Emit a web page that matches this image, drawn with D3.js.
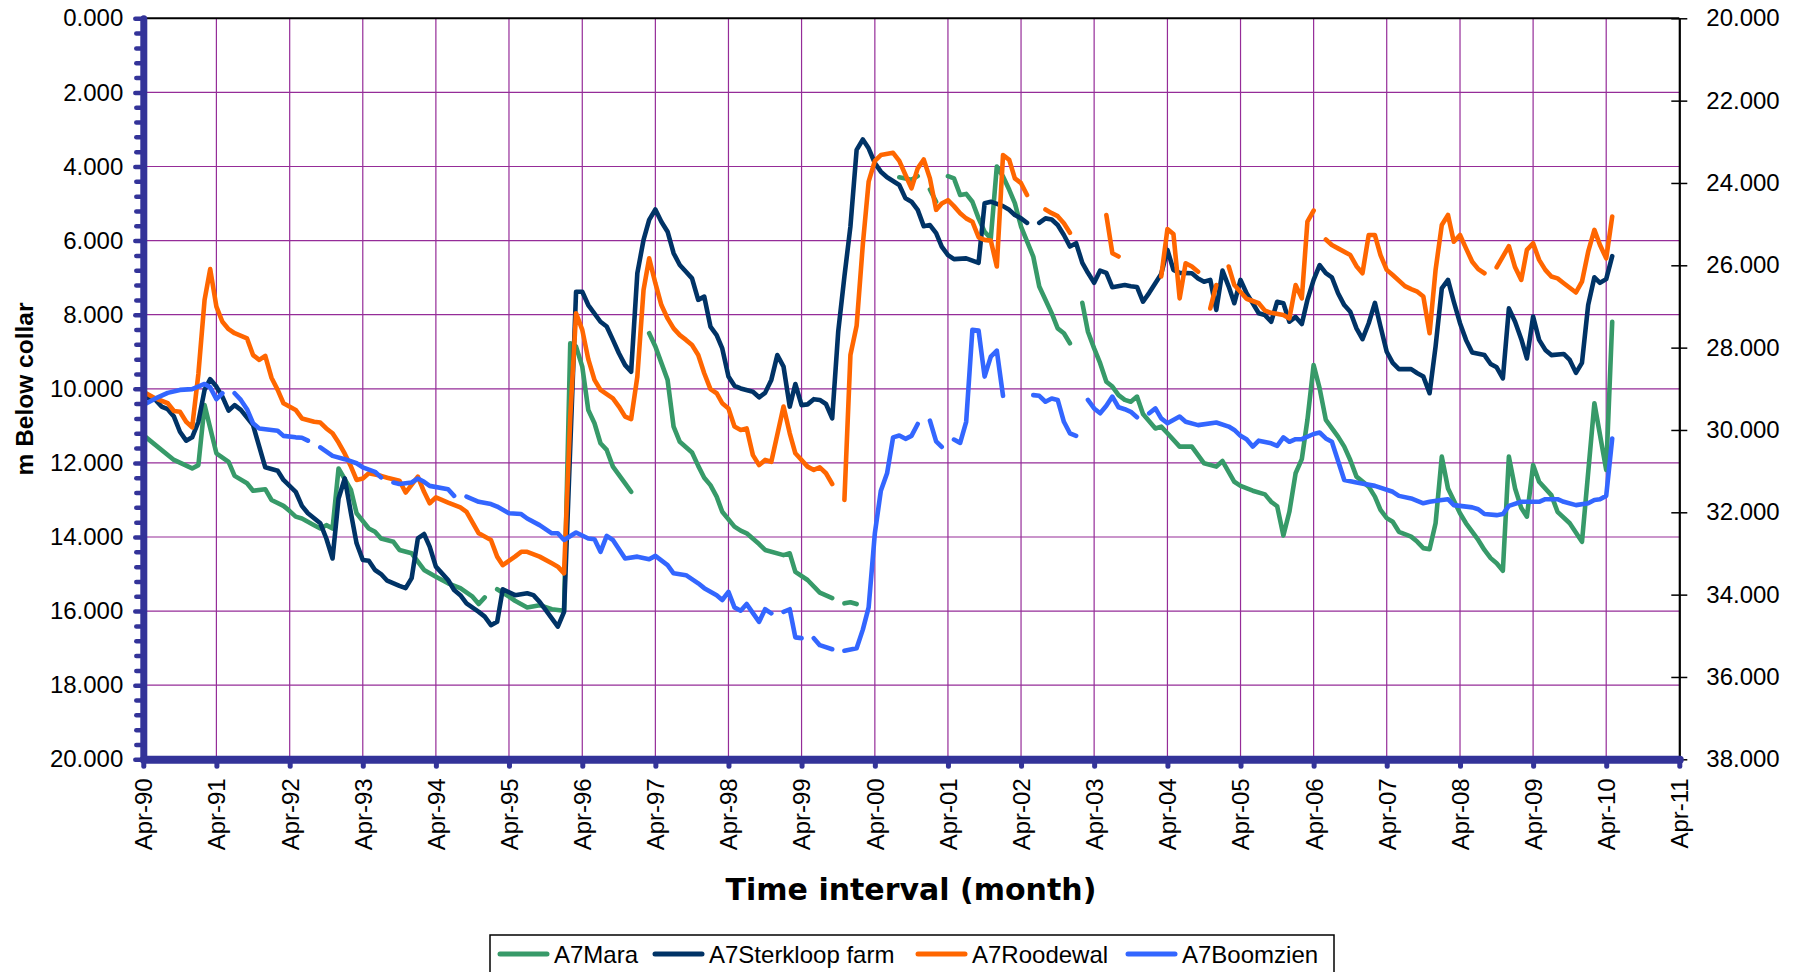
<!DOCTYPE html>
<html>
<head>
<meta charset="utf-8">
<script src="https://cdn.jsdelivr.net/npm/d3@7/dist/d3.min.js"></script>
<style>
  body { margin: 0; background: #fff; }
  svg { display: block; }
  text { font-family: "Liberation Sans", Arial, Helvetica, sans-serif; fill: #000; }
  text.x-title { font-family: "DejaVu Sans", Verdana, sans-serif; }
</style>
</head>
<body>
<svg id="chart" width="1795" height="972"></svg>
<script>
// Monthly water levels (m below collar), month offset counted from April 1990.
// A [month, null] entry marks a break in the record.
const firstMonth = new Date(1990, 3, 1);

const yearLabels = ["Apr-90","Apr-91","Apr-92","Apr-93","Apr-94","Apr-95","Apr-96","Apr-97",
  "Apr-98","Apr-99","Apr-00","Apr-01","Apr-02","Apr-03","Apr-04","Apr-05","Apr-06","Apr-07",
  "Apr-08","Apr-09","Apr-10","Apr-11"];
const leftTicks = [0, 2, 4, 6, 8, 10, 12, 14, 16, 18, 20];
const rightTicks = [20, 22, 24, 26, 28, 30, 32, 34, 36, 38];

const seriesNames = ["A7Mara", "A7Sterkloop farm", "A7Roodewal", "A7Boomzien"];

const mara = [[0,11.25],[5,11.92],[8,12.15],[9,12.06],[10,10.44],[12,11.74],[14,11.97],[15,12.35],[17,12.55],[18,12.75],[20,12.71],[21,13.0],[23,13.16],[24,13.3],[25,13.45],[26,13.5],[28,13.68],[29,13.77],[30,13.68],[31,13.77],[32,12.15],[34,12.73],[35,13.36],[37,13.77],[38,13.86],[39,14.04],[41,14.13],[42,14.35],[44,14.44],[46,14.89],[48,15.07],[50,15.25],[52,15.38],[54,15.61],[55,15.81],[56,15.63],[57,null],[58,15.41],[60,15.61],[61,15.72],[63,15.9],[65,15.84],[67,15.95],[69,15.99],[70,8.77],[71,8.86],[72,9.4],[73,10.57],[74,10.93],[75,11.47],[76,11.65],[77,12.1],[79,12.55],[80,12.78],[81,null],[83,8.5],[84,8.86],[86,9.76],[87,11.02],[88,11.43],[90,11.72],[91,12.08],[92,12.4],[93,12.6],[94,12.91],[95,13.32],[97,13.72],[98,13.83],[99,13.9],[101,14.19],[102,14.35],[105,14.49],[106,14.44],[107,14.94],[109,15.16],[111,15.5],[113,15.65],[114,null],[115,15.79],[116,15.76],[117,15.81],[118,null],[124,4.29],[126,4.36],[127,4.26],[128,null],[129,4.62],[130,4.95],[131,null],[132,4.26],[133,4.32],[134,4.77],[135,4.74],[136,4.95],[137,5.4],[138,5.76],[139,5.94],[140,4.0],[141,4.27],[142,4.63],[143,4.99],[144,5.62],[146,6.43],[147,7.24],[149,7.96],[150,8.37],[151,8.5],[152,8.77],[153,null],[154,7.68],[155,8.46],[156,8.91],[157,9.31],[158,9.81],[159,9.94],[160,10.17],[161,10.3],[162,10.35],[163,10.21],[164,10.68],[166,11.07],[167,11.02],[168,11.2],[170,11.56],[171,11.56],[172,11.56],[174,12.01],[176,12.1],[177,11.95],[179,12.51],[180,12.62],[182,12.75],[184,12.85],[185,13.05],[186,13.17],[187,13.96],[188,13.32],[189,12.28],[190,11.9],[191,10.84],[192,9.36],[193,9.99],[194,10.84],[196,11.29],[197,11.56],[198,11.92],[199,12.37],[201,12.64],[202,12.91],[203,13.27],[204,13.49],[205,13.59],[206,13.86],[208,13.99],[209,14.13],[210,14.3],[211,14.33],[212,13.63],[213,11.83],[214,12.69],[216,13.36],[217,13.63],[219,14.08],[220,14.35],[221,14.57],[222,14.71],[223,14.91],[224,11.83],[225,12.69],[226,13.22],[227,13.45],[228,12.06],[229,12.51],[231,12.87],[232,13.32],[234,13.63],[236,14.13],[238,10.39],[240,12.19],[241,8.19]];

const sterkloop = [[0,10.21],[2,10.3],[3,10.48],[4,10.55],[5,10.75],[6,11.16],[7,11.4],[8,11.31],[9,10.89],[10,10.03],[11,9.74],[12,9.94],[13,10.21],[14,10.59],[15,10.44],[16,10.57],[18,10.98],[19,11.56],[20,12.12],[22,12.21],[23,12.46],[25,12.78],[26,13.16],[27,13.36],[29,13.63],[30,14.04],[31,14.58],[32,12.96],[33,12.42],[34,13.36],[35,14.17],[36,14.62],[37,14.64],[38,14.89],[39,15.0],[40,15.18],[42,15.32],[43,15.38],[44,15.11],[45,14.04],[46,13.92],[47,14.26],[48,14.8],[50,15.16],[51,15.43],[52,15.57],[53,15.79],[55,16.02],[56,16.15],[57,16.38],[58,16.29],[59,15.41],[61,15.57],[63,15.52],[64,15.57],[65,15.75],[66,15.97],[68,16.42],[69,16.02],[71,7.38],[72,7.38],[73,7.74],[75,8.19],[76,8.32],[77,8.68],[78,9.04],[79,9.36],[80,9.54],[81,6.88],[82,5.98],[83,5.44],[84,5.16],[85,5.49],[86,5.76],[87,6.34],[88,6.66],[89,6.84],[90,7.02],[91,7.6],[92,7.51],[93,8.32],[94,8.55],[95,8.91],[96,9.67],[97,9.92],[98,9.99],[100,10.08],[101,10.23],[102,10.11],[103,9.76],[104,9.09],[105,9.4],[106,10.48],[107,9.87],[108,10.44],[109,10.42],[110,10.28],[111,10.3],[112,10.41],[113,10.8],[114,8.46],[115,6.97],[116,5.62],[117,3.55],[118,3.27],[119,3.51],[120,3.91],[121,4.14],[122,4.29],[124,4.5],[125,4.86],[126,4.95],[127,5.17],[128,5.61],[129,5.58],[130,5.8],[131,6.16],[132,6.39],[133,6.5],[135,6.48],[136,6.54],[137,6.6],[138,4.99],[139,4.95],[141,5.07],[142,5.17],[143,5.31],[144,5.4],[145,5.52],[146,null],[147,5.52],[148,5.4],[149,5.43],[150,5.58],[151,5.85],[152,6.16],[153,6.07],[154,6.6],[155,6.87],[156,7.14],[157,6.81],[158,6.87],[159,7.26],[161,7.2],[162,7.23],[163,7.25],[164,7.65],[165,7.41],[167,6.9],[168,6.25],[169,6.79],[170,6.87],[172,6.88],[173,7.02],[174,7.11],[175,7.06],[176,7.87],[177,6.81],[178,7.24],[179,7.69],[180,7.06],[181,7.42],[182,7.69],[183,7.96],[184,8.01],[185,8.19],[186,7.65],[187,7.69],[188,8.19],[189,8.06],[190,8.25],[191,7.6],[192,7.06],[193,6.66],[194,6.88],[195,6.99],[196,7.42],[197,7.74],[198,7.92],[199,8.37],[200,8.66],[201,8.23],[202,7.68],[203,8.32],[204,9.0],[205,9.3],[206,9.47],[208,9.47],[209,9.58],[210,9.67],[211,10.12],[212,8.86],[213,7.29],[214,7.06],[215,7.65],[216,8.23],[217,8.68],[218,9.02],[220,9.09],[221,9.33],[222,9.42],[223,9.72],[224,7.83],[225,8.19],[226,8.66],[227,9.18],[228,8.05],[229,8.68],[230,8.95],[231,9.09],[233,9.06],[234,9.22],[235,9.57],[236,9.3],[237,7.74],[238,6.99],[239,7.14],[240,7.04],[241,6.42]];

const roodewal = [[0,10.08],[2,10.26],[4,10.39],[5,10.6],[6,10.62],[7,10.89],[8,11.04],[9,9.6],[10,7.6],[11,6.77],[12,7.78],[13,8.19],[14,8.39],[15,8.5],[17,8.64],[18,9.09],[19,9.22],[20,9.11],[21,9.7],[22,10.03],[23,10.39],[25,10.57],[26,10.8],[28,10.89],[29,10.91],[30,11.07],[31,11.2],[32,11.45],[33,11.75],[34,12.1],[35,12.46],[36,12.42],[37,12.28],[39,12.35],[40,12.4],[42,12.48],[43,12.8],[45,12.37],[46,12.78],[47,13.09],[48,12.93],[50,13.07],[52,13.2],[53,13.32],[55,13.9],[57,14.08],[58,14.53],[59,14.76],[61,14.53],[62,14.4],[63,14.4],[65,14.53],[67,14.71],[68,14.8],[69,14.98],[70,10.75],[71,7.96],[72,8.41],[73,9.2],[74,9.76],[75,10.03],[77,10.26],[78,10.48],[79,10.75],[80,10.82],[81,9.67],[82,7.33],[83,6.48],[84,7.15],[85,7.74],[86,8.1],[87,8.37],[88,8.55],[89,8.68],[90,8.82],[91,9.09],[92,9.58],[93,10.01],[94,10.12],[95,10.39],[96,10.53],[97,11.02],[98,11.11],[99,11.07],[100,11.79],[101,12.06],[102,11.92],[103,11.97],[105,10.48],[106,11.2],[107,11.74],[109,12.1],[110,12.19],[111,12.12],[112,12.28],[113,12.57],[114,null],[115,13.0],[116,9.09],[117,8.3],[118,6.1],[119,4.41],[120,3.85],[121,3.69],[123,3.63],[124,3.85],[125,4.23],[126,4.59],[127,4.05],[128,3.81],[129,4.32],[130,5.17],[131,5.0],[132,4.91],[133,5.07],[134,5.26],[135,5.4],[136,5.49],[137,5.91],[138,5.98],[139,6.0],[140,6.7],[141,3.69],[142,3.82],[143,4.32],[144,4.45],[145,4.77],[146,null],[148,5.16],[149,5.26],[150,5.34],[151,5.53],[152,5.79],[153,null],[158,5.31],[159,6.34],[160,6.43],[161,null],[167,6.97],[168,5.69],[169,5.82],[170,7.56],[171,6.61],[172,6.7],[173,6.84],[174,null],[175,7.83],[176,7.2],[177,null],[178,6.7],[179,7.2],[181,7.57],[183,7.69],[184,7.89],[185,7.95],[187,8.01],[188,8.1],[189,7.2],[190,7.56],[191,5.49],[192,5.19],[193,null],[194,5.97],[195,6.12],[196,6.21],[198,6.39],[199,6.69],[200,6.88],[201,5.85],[202,5.85],[203,6.39],[204,6.79],[205,6.93],[207,7.23],[208,7.31],[209,7.38],[210,7.51],[211,8.5],[212,6.79],[213,5.58],[214,5.31],[215,6.03],[216,5.85],[217,6.21],[218,6.57],[219,6.77],[220,6.88],[221,null],[222,6.72],[224,6.15],[225,6.72],[226,7.06],[227,6.25],[228,6.07],[229,6.52],[230,6.79],[231,6.97],[232,7.02],[233,7.15],[235,7.4],[236,7.11],[237,6.3],[238,5.71],[239,6.12],[240,6.48],[241,5.35]];

const boomzien = [[0,10.44],[2,10.26],[4,10.11],[6,10.03],[8,10.01],[10,9.87],[11,9.96],[12,10.28],[13,10.12],[14,null],[15,10.12],[16,10.3],[17,10.55],[18,10.93],[19,11.07],[22,11.13],[23,11.27],[25,11.31],[26,11.32],[27,11.4],[28,null],[29,11.58],[31,11.81],[33,11.9],[35,12.01],[36,12.12],[38,12.24],[39,12.39],[40,null],[41,12.53],[42,12.57],[44,12.53],[45,12.42],[46,12.51],[47,12.62],[50,12.71],[51,12.89],[52,null],[53,12.91],[55,13.05],[57,13.11],[58,13.18],[60,13.36],[62,13.38],[63,13.5],[65,13.68],[67,13.9],[68,13.9],[69,14.08],[71,13.88],[73,14.04],[74,14.06],[75,14.4],[76,13.97],[77,14.08],[79,14.58],[81,14.53],[83,14.6],[84,14.51],[86,14.76],[87,14.98],[89,15.03],[91,15.25],[92,15.38],[94,15.57],[95,15.7],[96,15.48],[97,15.9],[98,15.99],[99,15.81],[101,16.29],[102,15.95],[103,16.06],[104,null],[105,16.02],[106,15.95],[107,16.71],[108,16.73],[109,null],[110,16.73],[111,16.92],[113,17.03],[114,null],[115,17.07],[117,17.0],[118,16.5],[119,15.9],[120,13.9],[121,12.75],[122,12.28],[123,11.31],[124,11.26],[125,11.35],[126,11.27],[127,10.95],[128,null],[129,10.86],[130,11.42],[131,11.57],[132,null],[133,11.37],[134,11.46],[135,10.89],[136,8.41],[137,8.43],[138,9.67],[139,9.13],[140,8.97],[141,10.19],[142,null],[146,10.17],[147,10.19],[148,10.35],[149,10.26],[150,10.3],[151,10.89],[152,11.2],[153,11.27],[154,null],[155,10.3],[156,10.53],[157,10.66],[158,10.46],[159,10.21],[160,10.5],[161,10.55],[162,10.62],[163,10.77],[164,null],[165,10.66],[166,10.53],[167,10.8],[168,10.93],[170,10.75],[171,10.89],[173,10.98],[176,10.91],[178,11.02],[179,11.11],[180,11.27],[181,11.36],[182,11.56],[183,11.4],[185,11.47],[186,11.54],[187,11.31],[188,11.43],[189,11.36],[190,11.36],[192,11.22],[193,11.18],[194,11.34],[195,11.43],[197,12.46],[199,12.53],[202,12.62],[205,12.78],[206,12.89],[208,12.96],[210,13.09],[211,13.05],[213,13.0],[214,12.98],[215,13.14],[218,13.2],[219,13.25],[220,13.38],[222,13.41],[223,13.38],[224,13.16],[226,13.05],[229,13.05],[230,12.98],[232,12.98],[233,13.05],[235,13.14],[237,13.09],[238,13.0],[239,12.98],[240,12.89],[241,11.34]];

const seriesData = [mara, sterkloop, roodewal, boomzien];
const seriesColors = ["#379A69", "#003366", "#FF6600", "#3366FF"];

// ---- layout ----
const plot = { left: 143.3, right: 1679.3, top: 18.3, bottom: 759.3 };
const axisBlue = "#333399";
const gridPurple = "#952C98";

const svg = d3.select("#chart");

const monthDate = m => d3.timeMonth.offset(firstMonth, m);
const yearDates = yearLabels.map((_, i) => d3.timeYear.offset(firstMonth, i));

const x = d3.scaleTime()
  .domain([firstMonth, d3.timeYear.offset(firstMonth, 21)])
  .range([plot.left, plot.right]);
const y = d3.scaleLinear().domain([0, 20]).range([plot.top, plot.bottom]);
const yRight = d3.scaleLinear().domain([20, 38]).range([plot.top, plot.bottom]);

// ---- gridlines ----
const grid = svg.append("g").attr("stroke", gridPurple).attr("stroke-width", 1.2);
grid.selectAll("line.v").data(yearDates.slice(1, -1)).join("line")
  .attr("x1", d => x(d)).attr("x2", d => x(d))
  .attr("y1", plot.top).attr("y2", plot.bottom);
grid.selectAll("line.h").data(leftTicks.slice(1, -1)).join("line")
  .attr("x1", plot.left).attr("x2", plot.right)
  .attr("y1", d => y(d)).attr("y2", d => y(d));

// ---- series ----
const line = d3.line()
  .defined(d => d[1] !== null)
  .x(d => x(monthDate(d[0])))
  .y(d => y(d[1]));

svg.append("g").selectAll("path").data(seriesData).join("path")
  .attr("d", line)
  .attr("fill", "none")
  .attr("stroke", (d, i) => seriesColors[i])
  .attr("stroke-width", 4.6)
  .attr("stroke-linejoin", "round")
  .attr("stroke-linecap", "round");

// ---- frame: top edge and secondary axis ----
svg.append("line")
  .attr("x1", plot.left).attr("x2", plot.right)
  .attr("y1", plot.top).attr("y2", plot.top)
  .attr("stroke", "#000").attr("stroke-width", 2);

const rightAxis = svg.append("g")
  .attr("transform", `translate(${plot.right},0)`)
  .call(d3.axisRight(yRight).tickValues(rightTicks).tickFormat(d3.format(".3f"))
    .tickSizeInner(8).tickSizeOuter(0).tickPadding(19));
rightAxis.attr("font-family", null);
rightAxis.select(".domain").attr("stroke", "#000").attr("stroke-width", 2.2);
rightAxis.selectAll(".tick line").attr("x1", -8).attr("x2", 8)
  .attr("stroke", "#000").attr("stroke-width", 1.5);
rightAxis.selectAll(".tick text").attr("font-size", 24).attr("fill", "#000");

// ---- primary (left) axis with minor ticks ----
const minorTicks = d3.range(0, 50).map(i => i * 0.4).filter(v => v % 2 > 0.01);
const leftMinor = svg.append("g")
  .attr("transform", `translate(${plot.left},0)`)
  .call(d3.axisLeft(y).tickValues(minorTicks).tickFormat("").tickSizeInner(7).tickSizeOuter(0));
leftMinor.select(".domain").remove();
leftMinor.selectAll(".tick line").attr("stroke", axisBlue).attr("stroke-width", 4.5)
  .attr("stroke-linecap", "round");

const leftAxis = svg.append("g")
  .attr("transform", `translate(${plot.left},0)`)
  .call(d3.axisLeft(y).tickValues(leftTicks).tickFormat(d3.format(".3f"))
    .tickSizeInner(8).tickSizeOuter(0).tickPadding(12));
leftAxis.select(".domain").attr("stroke", axisBlue).attr("stroke-width", 7)
  .attr("stroke-linecap", "round");
leftAxis.selectAll(".tick line").attr("stroke", axisBlue).attr("stroke-width", 4.5)
  .attr("stroke-linecap", "round");
leftAxis.selectAll(".tick text").attr("font-size", 24).attr("fill", "#000");

// ---- time axis ----
const bottomAxis = svg.append("g")
  .attr("transform", `translate(0,${plot.bottom})`)
  .call(d3.axisBottom(x).tickValues(yearDates).tickFormat((d, i) => yearLabels[i])
    .tickSizeInner(7).tickSizeOuter(0));
bottomAxis.select(".domain").attr("stroke", axisBlue).attr("stroke-width", 8)
  .attr("stroke-linecap", "round");
bottomAxis.selectAll(".tick line").attr("stroke", axisBlue).attr("stroke-width", 5)
  .attr("stroke-linecap", "round");
bottomAxis.selectAll(".tick text")
  .attr("font-size", 24).attr("fill", "#000")
  .attr("text-anchor", "end")
  .attr("transform", "rotate(-90)")
  .attr("x", -19).attr("y", 0).attr("dy", "0.35em");

// ---- axis titles ----
svg.append("text")
  .attr("class", "x-title")
  .attr("x", 911).attr("y", 889)
  .attr("text-anchor", "middle").attr("dominant-baseline", "central")
  .attr("font-weight", "bold").attr("font-size", 30)
  .text("Time interval (month)");

svg.append("text")
  .attr("transform", "translate(24,389) rotate(-90)")
  .attr("text-anchor", "middle").attr("dominant-baseline", "central")
  .attr("font-weight", "bold").attr("font-size", 24.5)
  .text("m Below collar");

// ---- legend ----
const legend = svg.append("g");
legend.append("rect")
  .attr("x", 490).attr("y", 935).attr("width", 844).attr("height", 40)
  .attr("fill", "#fff").attr("stroke", "#000").attr("stroke-width", 1.5);
const legendX = [500, 655, 918, 1128];
const items = legend.selectAll("g.item").data(seriesNames).join("g")
  .attr("transform", (d, i) => `translate(${legendX[i]},954)`);
items.append("line")
  .attr("x1", 0).attr("x2", 47).attr("y1", 0).attr("y2", 0)
  .attr("stroke", (d, i) => seriesColors[i]).attr("stroke-width", 5)
  .attr("stroke-linecap", "round");
items.append("text")
  .attr("x", 54).attr("y", 0).attr("dominant-baseline", "central")
  .attr("font-size", 24)
  .text(d => d);
</script>
</body>
</html>
